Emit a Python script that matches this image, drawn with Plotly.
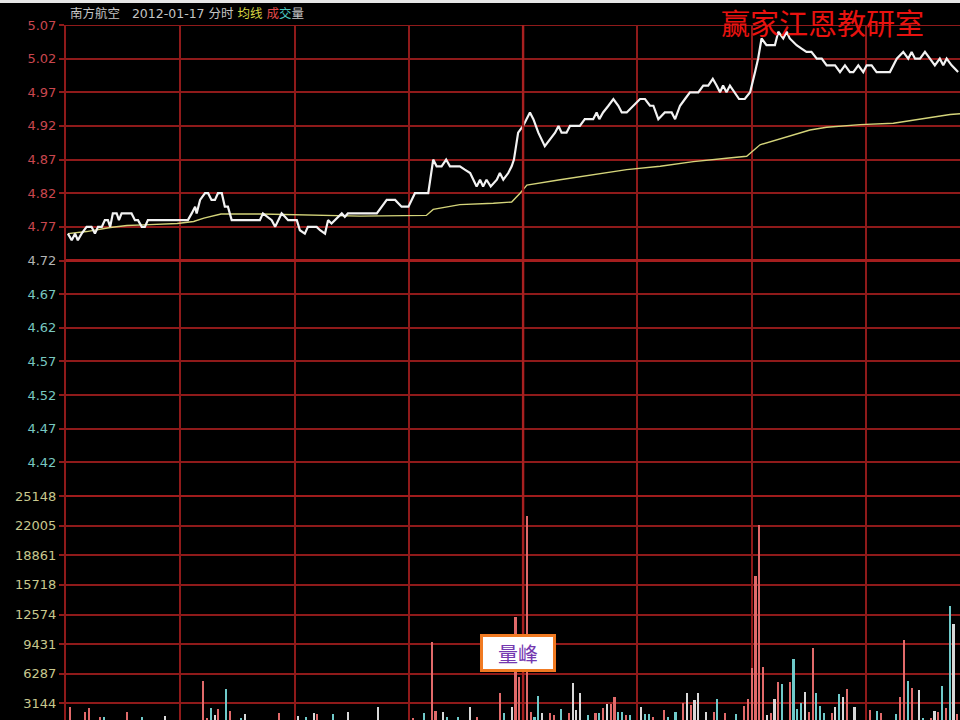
import plotly.graph_objects as go

# ---------------- data ----------------
# minute index since 9:30 (240-minute trading day), price of the intraday line
price_min = [0.5, 1.5, 2.4, 3.1, 4.1, 5.4, 6.7, 7.6, 8.4, 9.4, 10.2, 11.0, 11.6, 12.3, 13.3, 13.9,
             14.6, 15.5, 16.3, 17.2, 18.1, 18.9, 19.9, 20.7, 21.5, 32.0, 33.0, 33.9, 34.3, 35.2,
             36.5, 37.3, 38.2, 39.1, 39.9, 40.9, 41.7, 42.5, 43.5, 50.9, 51.7, 52.7, 54.0, 54.9,
             55.7, 56.6, 57.5, 58.3, 60.6, 61.4, 62.7, 63.5, 65.8, 66.7, 68.0, 68.8, 69.7, 70.6,
             72.4, 73.2, 74.0, 75.0, 81.6, 84.2, 86.4, 88.1, 89.9, 91.6, 95.1, 96.4, 97.3,
             98.6, 99.8, 100.8, 103.4, 104.7, 106.1, 107.8, 108.7, 109.5, 110.4, 111.5, 113.1, 113.9,
             114.8, 116.1, 117.0, 117.6, 118.7, 120.0, 121.8, 122.7, 124.0, 125.7, 127.1, 128.4,
             129.3, 130.1, 131.4, 132.3, 134.9, 136.2, 138.4, 139.3, 140.0, 141.0, 142.4, 143.7,
             145.0, 145.9, 147.2, 148.9, 150.7, 152.0, 153.3, 154.2, 155.5, 157.2, 159.0, 159.9,
             161.2, 162.5, 163.8, 166.0, 167.3, 168.6, 169.8, 170.8, 171.7, 172.5, 173.4, 174.3,
             175.6, 176.7, 178.2, 179.6, 180.9, 181.7, 182.6, 183.9, 186.1, 187.0, 188.3, 189.2,
             190.0, 190.9, 191.8, 193.1, 194.4, 195.7, 197.1, 198.4, 199.7, 201.9, 203.2, 204.5,
             205.8, 206.7, 208.0, 209.3, 210.2, 211.5, 212.8, 216.3, 218.1, 219.8, 221.1, 222.0,
             222.9, 224.2, 225.5, 226.8, 228.1, 229.4, 230.3, 231.2, 232.5, 234.2]
price_val = [4.76, 4.75, 4.76, 4.75, 4.76, 4.77, 4.77, 4.76, 4.77, 4.77, 4.78, 4.78, 4.77, 4.79, 4.79, 4.78,
             4.79, 4.79, 4.79, 4.79, 4.78, 4.78, 4.77, 4.77, 4.78, 4.78, 4.79, 4.80, 4.79, 4.81,
             4.82, 4.82, 4.81, 4.81, 4.82, 4.82, 4.80, 4.80, 4.78, 4.78, 4.79, 4.785, 4.78, 4.77,
             4.78, 4.79, 4.785, 4.78, 4.78, 4.765, 4.76, 4.77, 4.77, 4.765, 4.76, 4.78, 4.775, 4.78,
             4.79, 4.785, 4.79, 4.79, 4.79, 4.81, 4.81, 4.80, 4.80, 4.82, 4.82, 4.87, 4.86,
             4.86, 4.87, 4.86, 4.86, 4.855, 4.85, 4.83, 4.84, 4.83, 4.84, 4.83, 4.84, 4.85,
             4.84, 4.85, 4.86, 4.87, 4.91, 4.92, 4.94, 4.93, 4.91, 4.89, 4.90, 4.91,
             4.92, 4.91, 4.91, 4.92, 4.92, 4.93, 4.93, 4.94, 4.93, 4.94, 4.95, 4.96,
             4.95, 4.94, 4.94, 4.95, 4.96, 4.96, 4.95, 4.95, 4.93, 4.94, 4.94, 4.93,
             4.95, 4.96, 4.97, 4.97, 4.98, 4.98, 4.99, 4.98, 4.97, 4.98, 4.97, 4.98,
             4.97, 4.96, 4.96, 4.97, 5.00, 5.02, 5.05, 5.04, 5.04, 5.06, 5.05, 5.06,
             5.05, 5.045, 5.04, 5.035, 5.03, 5.03, 5.02, 5.02, 5.01, 5.01, 5.00, 5.01,
             5.00, 5.00, 5.01, 5.00, 5.01, 5.01, 5.00, 5.00, 5.02, 5.03, 5.02, 5.03,
             5.02, 5.02, 5.03, 5.02, 5.01, 5.02, 5.01, 5.02, 5.01, 5.00]

# average price line
avg_min = [0.5, 5.4, 11.6, 16.0, 20.4, 29.2, 33.5, 36.2, 40.7, 51.2, 77.2, 88.4, 94.6, 96.4,
           103.4, 112.2, 117.0, 119.2, 121.0, 129.7, 138.4, 147.2, 156.0, 164.7, 173.4, 178.7,
           182.2, 186.6, 191.0, 195.3, 199.7, 208.5, 217.2, 226.0, 232.1, 234.7]
avg_val = [4.760, 4.763, 4.769, 4.772, 4.773, 4.775, 4.778, 4.783, 4.789, 4.789, 4.786, 4.786, 4.787, 4.796,
           4.803, 4.805, 4.807, 4.820, 4.832, 4.840, 4.847, 4.855, 4.860, 4.867, 4.872, 4.875,
           4.892, 4.899, 4.907, 4.914, 4.918, 4.922, 4.924, 4.932, 4.937, 4.938]

# volume bars (minute, volume, direction r=up c=down w=flat)
vol_min = [1, 5, 6, 9, 10, 16, 20, 26, 36, 37, 38, 39, 40, 42, 43, 46, 47, 56, 61, 63, 65, 66, 70, 74, 82,
           91, 94, 96, 97, 99, 100, 103, 106, 108, 114, 115, 117, 118, 119, 120, 121, 122, 123, 124,
           125, 127, 128, 130, 132, 133, 134, 135, 137, 139, 140, 141, 142, 143, 144, 145, 146, 147,
           148, 151, 152, 153, 154, 157, 158, 160, 162, 163, 164, 165, 166, 168, 170, 171, 173, 176,
           178, 179, 180, 181, 182, 183, 184, 185, 186, 187, 188, 190, 191, 192, 193, 194, 195, 196,
           197, 198, 199, 201, 202, 203, 204, 205, 207, 211, 213, 214, 218, 219, 220, 221, 222, 224,
           225, 227, 228, 229, 230, 231, 232, 233, 234]
vol_val = [2790, 2260, 2620, 1730, 1730, 2260, 1730, 1800, 5520, 1590, 2690, 1910, 2520, 4640, 2370, 1620,
           1990, 2160, 1800, 1730, 2090, 1990, 1990, 2260, 2790,
           1590, 2090, 9700, 2370, 2260, 1730, 1670, 2790, 1730, 4280, 2090, 2790, 12350, 5980, 5700,
           23050, 2260, 1730, 3930,
           2090, 2160, 1910, 2520, 2160, 5340, 2440, 4280, 1910, 2090, 2090, 2620, 3080, 3080, 3790,
           2200, 2200, 1910,
           1910, 2790, 1990, 1990, 1670, 2440, 1730, 2260, 3220, 4220, 2970, 3500, 4280, 2260, 2260,
           3580, 2090, 2000,
           2890, 3640, 6870, 16670, 22090, 7040, 1910, 2160, 3580, 5450, 5200, 5450, 7860, 2520, 3150,
           4390, 2200, 9060,
           4280, 2870, 2090, 2090, 2730, 4140, 3790, 4670, 2790, 2440, 2370, 2090, 1990, 3860, 9880,
           5550, 4750, 4570,
           1560, 1560, 2370, 2260, 5020, 2620, 13490, 11540, 2000]
vol_dir = ['r', 'r', 'r', 'r', 'c', 'r', 'c', 'w', 'r', 'r', 'c', 'w', 'r', 'c', 'r', 'c', 'w', 'r', 'w', 'c',
           'w', 'r', 'c', 'w', 'w',
           'r', 'c', 'r', 'r', 'w', 'c', 'c', 'w', 'r', 'r', 'c', 'w', 'r', 'r', 'w', 'r', 'r', 'c', 'c',
           'w', 'r', 'r', 'c', 'r', 'w', 'w', 'w', 'c', 'r', 'c', 'r', 'w', 'r', 'r', 'c', 'c', 'r',
           'c', 'w', 'c', 'c', 'r', 'r', 'c', 'c', 'r', 'w', 'r', 'w', 'w', 'w', 'r', 'c', 'r', 'c',
           'r', 'r', 'r', 'r', 'r', 'r', 'w', 'r', 'w', 'r', 'c', 'r', 'c', 'c', 'c', 'w', 'r', 'r',
           'c', 'c', 'c', 'r', 'w', 'c', 'w', 'r', 'w', 'r', 'c', 'r', 'c', 'r', 'r', 'c', 'r', 'w',
           'c', 'r', 'w', 'r', 'c', 'r', 'c', 'w', 'r']

prev_close = 4.72
price_ticks = [5.07, 5.02, 4.97, 4.92, 4.87, 4.82, 4.77, 4.72, 4.67, 4.62, 4.57, 4.52, 4.47, 4.42]
vol_ticks = [25148, 22005, 18861, 15718, 12574, 9431, 6287, 3144]

stock_name = "南方航空"
trade_date = "2012-01-17"
watermark = "赢家江恩教研室"
peak_label = "量峰"
peak_pos = (118.7, 8500)

# ---------------- style ----------------
GRID = "#8f1a1a"
BG = "#000000"
dir_colors = {"r": "#e06a6a", "c": "#6fcaca", "w": "#d8d8d8"}

W, H = 960, 720
ML, MT = 66, 25
plot_h = H - MT
split = (H - 496) / plot_h  # boundary between price and volume panels


def price_label(v):
    if v > prev_close + 1e-9:
        col = "#c9474f"
    elif v < prev_close - 1e-9:
        col = "#78c8c0"
    else:
        col = "#b4b4b4"
    return f'<span style="color:{col}">{v:.2f}</span>'


fig = go.Figure()

fig.add_trace(go.Bar(
    x=vol_min, y=vol_val, xaxis="x", yaxis="y2",
    marker=dict(color=[dir_colors[d] for d in vol_dir], line=dict(width=0)),
    width=0.55, showlegend=False, hoverinfo="skip"))

fig.add_trace(go.Scatter(
    x=avg_min, y=avg_val, mode="lines", xaxis="x", yaxis="y",
    line=dict(color="#d4d47a", width=1.4), showlegend=False, hoverinfo="skip"))

fig.add_trace(go.Scatter(
    x=price_min, y=price_val, mode="lines", xaxis="x", yaxis="y",
    line=dict(color="#f2f2f2", width=2.2), showlegend=False, hoverinfo="skip"))

axis_font = dict(family="DejaVu Sans", size=13)

fig.update_layout(
    width=W, height=H,
    margin=dict(l=ML, r=0, t=MT, b=0),
    paper_bgcolor=BG, plot_bgcolor=BG,
    bargap=0,
    xaxis=dict(range=[0, 234.7], tick0=0, dtick=30, showgrid=True, gridcolor=GRID, gridwidth=1.6,
               showticklabels=False, zeroline=False, showline=False, anchor="y2", fixedrange=True),
    yaxis=dict(domain=[split, 1], range=[4.37, 5.07], tickvals=price_ticks,
               ticktext=[price_label(v) for v in price_ticks],
               showgrid=True, gridcolor=GRID, gridwidth=1.6, zeroline=False,
               ticks="outside", ticklen=5, tickcolor=GRID, tickwidth=1.5,
               tickfont=axis_font, showline=True, linecolor=GRID, linewidth=2, anchor="x"),
    yaxis2=dict(domain=[0, split], range=[1380, 25148], tickvals=vol_ticks,
                ticktext=[str(v) for v in vol_ticks],
                showgrid=True, gridcolor=GRID, gridwidth=1.6, zeroline=False,
                ticks="outside", ticklen=5, tickcolor=GRID, tickwidth=1.5,
                tickfont=dict(family="DejaVu Sans", size=13, color="#c8c88e"),
                showline=True, linecolor=GRID, linewidth=2, anchor="x"),
)

# previous close line, top border, panel boundary, midday line
fig.add_shape(type="line", xref="paper", yref="y", x0=0, x1=1, y0=prev_close, y1=prev_close,
              line=dict(color="#a41e1e", width=3))
fig.add_shape(type="line", xref="paper", yref="y", x0=0, x1=1, y0=5.07, y1=5.07,
              line=dict(color=GRID, width=1.8))
fig.add_shape(type="line", xref="paper", yref="paper", x0=0, x1=1, y0=split, y1=split,
              line=dict(color="#a01c1c", width=2.2))
fig.add_shape(type="line", xref="x", yref="paper", x0=120, x1=120, y0=0, y1=1,
              line=dict(color="#a82020", width=2.4))
# light strip at the very top of the picture
fig.add_shape(type="rect", xref="paper", yref="paper", x0=-ML / (W - ML), x1=1,
              y0=1 + (MT - 3) / plot_h, y1=1 + MT / plot_h,
              fillcolor="#e6e6e6", line=dict(width=0), layer="below")

header = (f'{stock_name}&nbsp;&nbsp;&nbsp;{trade_date} 分时 '
          '<span style="color:#d6d640">均线</span> '
          '<span style="color:#e04a4a">成</span><span style="color:#4cc8c0">交</span>量')
fig.add_annotation(xref="paper", yref="paper", x=(68 - ML) / (W - ML), y=1 + (MT - 14) / plot_h,
                   xanchor="left", yanchor="middle", showarrow=False, text=header,
                   font=dict(family="DejaVu Sans, Noto Sans CJK SC", size=12.5, color="#c4c4c4"))

fig.add_annotation(xref="paper", yref="paper", x=(822 - ML) / (W - ML), y=1 + (MT - 22) / plot_h,
                   xanchor="center", yanchor="middle", showarrow=False, text=watermark,
                   font=dict(family="Noto Sans CJK SC", size=29, color="#e8120f"))

fig.add_annotation(xref="x", yref="y2", x=peak_pos[0], y=peak_pos[1], showarrow=False,
                   text=peak_label, width=66, height=28, borderpad=2, borderwidth=3,
                   bordercolor="#f07a22", bgcolor="#ffffff",
                   font=dict(family="Noto Sans CJK SC", size=20, color="#7438b0"))

fig.write_html("out.html",
               config={"displayModeBar": False},
               post_script="document.body.style.margin='0px';document.body.style.overflow='hidden';")
